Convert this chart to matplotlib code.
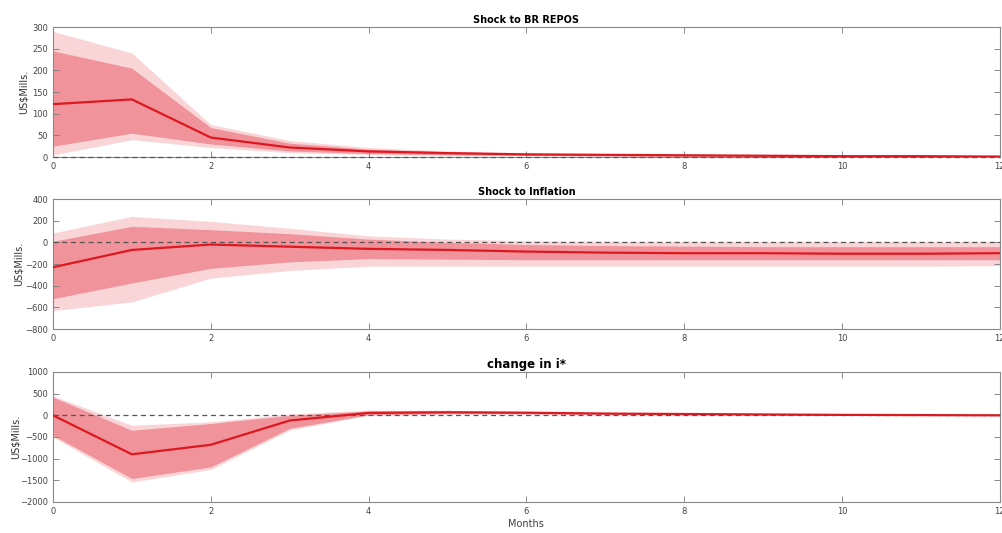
import numpy as np
import matplotlib.pyplot as plt

months = np.arange(13)

# Shock to BR REPOS
repos_med = [122, 133, 45, 22, 13, 9, 6, 5, 4, 3, 2, 2, 1]
repos_lo68 = [25, 55, 30, 14, 8, 5, 4, 3, 2, 1, 1, 1, 0]
repos_hi68 = [245, 205, 68, 32, 18, 12, 9, 7, 5, 4, 3, 3, 2]
repos_lo90 = [5, 40, 22, 10, 6, 4, 3, 2, 1, 1, 0, 0, 0]
repos_hi90 = [290, 240, 75, 38, 22, 14, 10, 8, 6, 5, 4, 3, 3]

# Shock to Inflation
infl_med = [-230, -70, -20, -40, -60, -70, -85, -95, -100, -100, -105, -105, -100]
infl_lo68 = [-520, -375, -240, -180, -150, -155, -160, -160, -160, -160, -160, -160, -160]
infl_hi68 = [10, 148, 117, 80, 30, 0, -20, -30, -35, -40, -40, -40, -40]
infl_lo90 = [-630, -550, -330, -260, -220, -220, -220, -220, -220, -220, -220, -220, -215]
infl_hi90 = [86, 240, 194, 130, 60, 30, 15, 10, 10, 10, 10, 10, 10]

# change in i*
ist_med = [0, -900, -680, -120, 55, 70, 60, 40, 30, 20, 10, 5, 0]
ist_lo68 = [-460, -1460, -1190, -300, 10, 40, 35, 20, 15, 10, 5, 0, -5]
ist_hi68 = [420, -346, -190, 0, 100, 100, 85, 60, 45, 30, 15, 10, 5]
ist_lo90 = [-500, -1540, -1250, -340, 0, 30, 30, 15, 10, 5, 0, -5, -10]
ist_hi90 = [450, -230, -150, 30, 120, 115, 95, 70, 50, 35, 20, 12, 8]

panels = [
    ("Shock to BR REPOS", 7, repos_med, repos_lo68, repos_hi68, repos_lo90, repos_hi90,
     (0, 300), np.arange(0, 301, 50)),
    ("Shock to Inflation", 7, infl_med, infl_lo68, infl_hi68, infl_lo90, infl_hi90,
     (-800, 400), np.arange(-800, 401, 200)),
    ("change in i*", 8.5, ist_med, ist_lo68, ist_hi68, ist_lo90, ist_hi90,
     (-2000, 1000), np.arange(-2000, 1001, 500)),
]

fig = plt.figure(figsize=(10.03, 5.33), dpi=100)
bottoms = [0.7054, 0.3827, 0.0582]
label_x = [-0.026, -0.031, -0.034]

for (title, tsize, med, lo68, hi68, lo90, hi90, ylim, yticks), b, lx in zip(panels, bottoms, label_x):
    ax = fig.add_axes([0.0528, b, 0.944, 0.2439])
    ax.fill_between(months, lo90, hi90, color='#fad5d8', lw=0)
    ax.fill_between(months, lo68, hi68, color='#f0939a', lw=0)
    ax.axhline(0, color='#555555', ls=(0, (4, 3)), lw=0.9, zorder=3, clip_on=False)
    ax.plot(months, med, color='#dd1820', lw=1.6, zorder=4)
    ax.set_xlim(0, 12)
    ax.set_ylim(*ylim)
    ax.set_xticks(np.arange(0, 13, 2))
    ax.set_yticks(yticks)
    ax.tick_params(direction='in', top=True, right=True, labelsize=6,
                   labelcolor='#444444', color='#777777', length=4, width=0.6)
    for sp in ax.spines.values():
        sp.set_color('#888888')
        sp.set_linewidth(0.8)
    ax.set_title(title, fontsize=tsize, fontweight='bold', pad=3)
    ax.set_ylabel('US\\$Mills.', fontsize=7, color='#333333')
    ax.yaxis.set_label_coords(lx, 0.5)

ax.set_xlabel('Months', fontsize=7, color='#444444', labelpad=2)

fig.savefig('out.png', dpi=100)
